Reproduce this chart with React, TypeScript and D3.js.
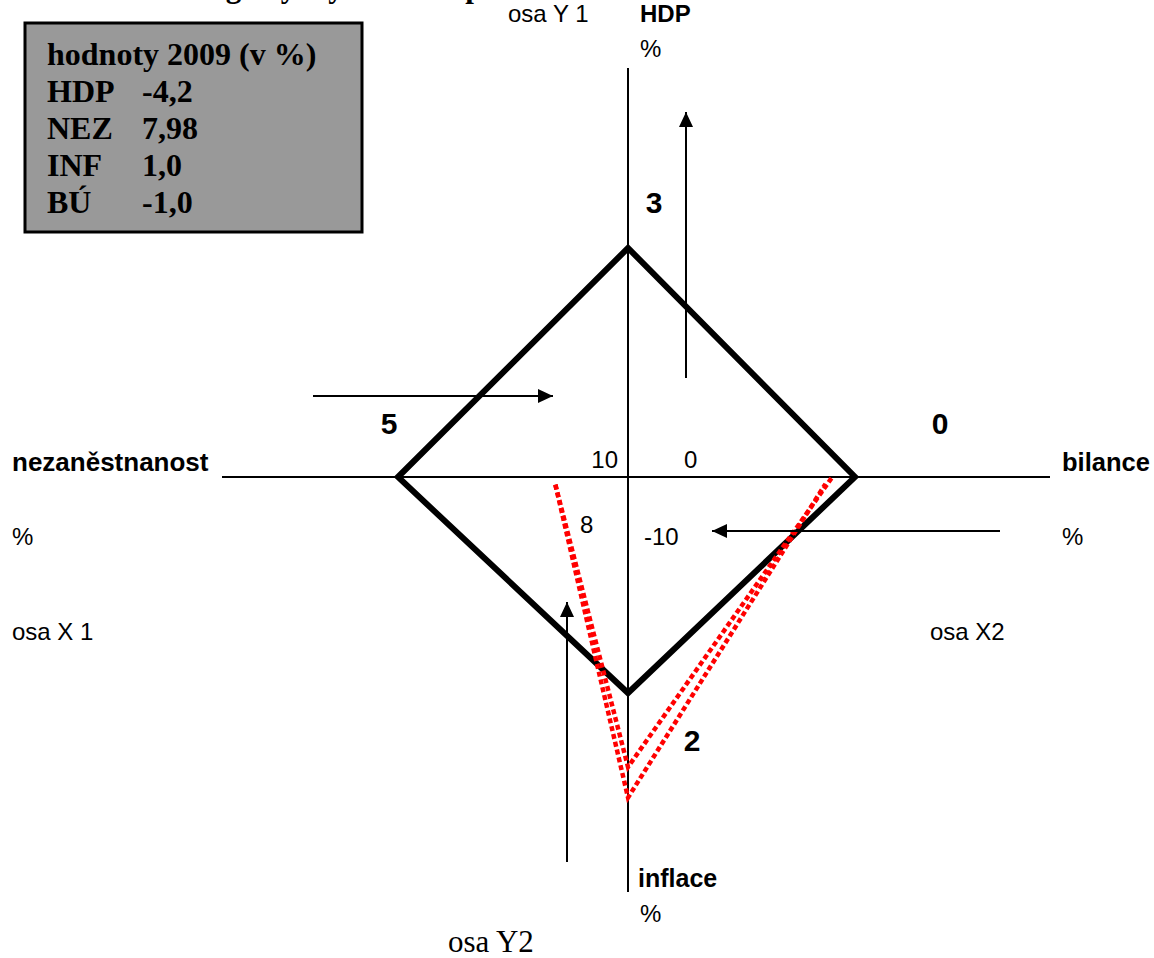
import React from 'react';
import * as d3 from 'd3';

// axes of the "magic quadrangle"
const axisTitles = ['nezaněstnanost', 'HDP', 'bilance', 'inflace'];
const axisCodes = ['osa X 1', 'osa Y 1', 'osa X2', 'osa Y2'];
const originValues = [10, 0, -10, 8];
const vertexValues = [5, 3, 0, 2];

// legend box
const legendTitle = 'hodnoty 2009 (v %)';
const legendLabels = ['HDP', 'NEZ', 'INF', 'BÚ'];
const legendValues = ['-4,2', '7,98', '1,0', '-1,0'];

// red dotted shapes (x in bilance units, y in HDP units)
const redAX = [-13.2, -10, -1.0];
const redAY = [-0.1, -3.8, 0];
const redBX = [-13.2, -10, -1.3];
const redBY = [-0.1, -4.2, -0.09];

const W = 1154;
const H = 958;
const cx = 628;
const cy = 477;
const sans = '"Liberation Sans", Arial, sans-serif';
const serif = '"Liberation Serif", "Times New Roman", serif';

export default function App() {
  // each half-axis: value -> distance from centre
  const sX1 = d3.scaleLinear().domain([originValues[0], vertexValues[0]]).range([0, 230]);
  const sY1 = d3.scaleLinear().domain([originValues[1], vertexValues[1]]).range([0, 229]);
  const sX2 = d3.scaleLinear().domain([originValues[2], vertexValues[2]]).range([0, 227]);
  const sY2 = d3.scaleLinear().domain([originValues[3], vertexValues[3]]).range([0, 216]);

  const diamond: [number, number][] = [
    [cx - sX1(vertexValues[0]), cy],
    [cx, cy - sY1(vertexValues[1])],
    [cx + sX2(vertexValues[2]), cy],
    [cx, cy + sY2(vertexValues[3])],
  ];
  const poly = d3.line().curve(d3.curveLinearClosed);
  const line = d3.line();

  const px = (v: number) => cx + sX2(v);
  const py = (v: number) => cy - sY1(v);
  const redA = redAX.map((x, i) => [px(x), py(redAY[i])] as [number, number]);
  const redB = redBX.map((x, i) => [px(x), py(redBY[i])] as [number, number]);

  // arrows: [x1, y1, x2, y2], tip at (x2, y2)
  const arrows = [
    [686, 378, 686, 112],
    [313, 396, 553, 396],
    [1000, 531, 712, 531],
    [567, 862, 567, 602],
  ];

  const head = (a: number[]) => {
    const ang = Math.atan2(a[3] - a[1], a[2] - a[0]);
    const L = 15, w = 7;
    const bx = a[2] - L * Math.cos(ang), by = a[3] - L * Math.sin(ang);
    const nx = -Math.sin(ang) * w, ny = Math.cos(ang) * w;
    return `M${a[2]},${a[3]}L${bx + nx},${by + ny}L${bx - nx},${by - ny}Z`;
  };

  return (
    <div style={{ position: 'absolute', left: 0, top: 0 }}>
      <svg width={W} height={H} style={{ display: 'block', background: 'white' }}>
        {/* clipped title at the very top */}
        <text x={181} y={-3} fontFamily={serif} fontWeight="bold" fontSize={31}>
          Magický čtyřúhelník pro
        </text>

        {/* legend */}
        <rect x={25} y={23} width={337} height={209} fill="#999999" stroke="#000" strokeWidth={3} />
        <text x={47} y={65} fontFamily={serif} fontWeight="bold" fontSize={32}>{legendTitle}</text>
        {legendLabels.map((l, i) => (
          <g key={l} fontFamily={serif} fontWeight="bold" fontSize={32}>
            <text x={47} y={102 + i * 37}>{l}</text>
            <text x={142} y={102 + i * 37}>{legendValues[i]}</text>
          </g>
        ))}

        {/* axes */}
        <line x1={222} y1={cy} x2={1050} y2={cy} stroke="#000" strokeWidth={2} />
        <line x1={cx} y1={68} x2={cx} y2={892} stroke="#000" strokeWidth={2} />

        {/* diamond */}
        <path d={poly(diamond) || ''} fill="none" stroke="#000" strokeWidth={6} strokeLinejoin="miter" />

        {/* red dotted */}
        <path d={line(redA) || ''} fill="none" stroke="#ff0000" strokeWidth={4.5} strokeDasharray="5 3" />
        <path d={line(redB) || ''} fill="none" stroke="#ff0000" strokeWidth={4.5} strokeDasharray="5 3" />

        {/* arrows */}
        {arrows.map((a, i) => (
          <g key={i}>
            <line x1={a[0]} y1={a[1]} x2={a[2]} y2={a[3]} stroke="#000" strokeWidth={2} />
            <path d={head(a)} fill="#000" />
          </g>
        ))}

        {/* vertex values */}
        <g fontFamily={sans} fontWeight="bold" fontSize={30} textAnchor="middle">
          <text x={389} y={434}>{vertexValues[0]}</text>
          <text x={654} y={213}>{vertexValues[1]}</text>
          <text x={940} y={434}>{vertexValues[2]}</text>
          <text x={692} y={751}>{vertexValues[3]}</text>
        </g>

        {/* origin values */}
        <g fontFamily={sans} fontSize={24}>
          <text x={618} y={468} textAnchor="end">{originValues[0]}</text>
          <text x={684} y={468}>{originValues[1]}</text>
          <text x={644} y={545}>{originValues[2]}</text>
          <text x={580} y={533}>{originValues[3]}</text>
        </g>

        {/* axis titles */}
        <g fontFamily={sans} fontSize={24}>
          <text x={12} y={471} fontWeight="bold" fontSize={26}>{axisTitles[0]}</text>
          <text x={12} y={545}>%</text>
          <text x={12} y={640}>{axisCodes[0]}</text>

          <text x={508} y={22}>{axisCodes[1]}</text>
          <text x={640} y={22} fontWeight="bold">{axisTitles[1]}</text>
          <text x={640} y={57}>%</text>

          <text x={1062} y={471} fontWeight="bold" fontSize={25.5}>{axisTitles[2]}</text>
          <text x={1062} y={545}>%</text>
          <text x={930} y={640}>{axisCodes[2]}</text>

          <text x={638} y={887} fontWeight="bold" fontSize={25}>{axisTitles[3]}</text>
          <text x={640} y={922}>%</text>
        </g>
        <text x={448} y={952} fontFamily={serif} fontSize={31}>{axisCodes[3]}</text>
      </svg>
    </div>
  );
}
